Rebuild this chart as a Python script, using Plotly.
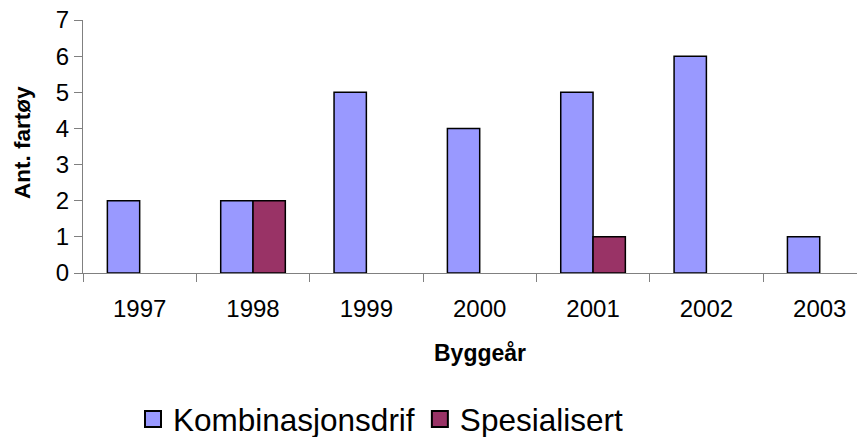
import plotly.graph_objects as go

years = ["1997", "1998", "1999", "2000", "2001", "2002", "2003"]
kombinasjon = [2, 2, 5, 4, 5, 6, 1]
spesialisert = [None, 2, None, None, 1, None, None]
series_names = ["Kombinasjonsdrif", "Spesialisert"]
series_colors = ["#9999FF", "#993366"]
y_ticks = [0, 1, 2, 3, 4, 5, 6, 7]

FONT = "Liberation Sans, Arial, sans-serif"

fig = go.Figure()
for vals, name, col in zip([kombinasjon, spesialisert], series_names, series_colors):
    fig.add_trace(go.Bar(x=years, y=vals, name=name, showlegend=False,
                         marker=dict(color=col, line=dict(color="black", width=1.5))))
# legend entries (square swatches)
for name, col in zip(series_names, series_colors):
    fig.add_trace(go.Scatter(x=[None], y=[None], name=name, mode="markers",
                             marker=dict(symbol="square", size=16, color=col,
                                         line=dict(color="black", width=2))))

# the page body adds an 8px offset, so figure coords = window coords - 8
L, R, T, B = 75, 0, 12, 172
W, H = 865, 437
pw = W - L - R
ph = H - T - B

def py(y):  # figure pixel y -> paper
    return (H - B - y) / ph

def px(x):  # figure pixel x -> paper
    return (x - L) / pw

fig.update_layout(
    width=W, height=H,
    margin=dict(l=L, r=R, t=T, b=B, autoexpand=False),
    paper_bgcolor="white", plot_bgcolor="white",
    barmode="group", bargap=0.43, bargroupgap=0,
    font=dict(family=FONT, size=24, color="black"),
    showlegend=True,
    legend=dict(orientation="h", x=px(125), y=py(384),
                xanchor="left", yanchor="top",
                font=dict(size=31.5), itemwidth=30, traceorder="normal",
                bgcolor="rgba(0,0,0,0)"),
    xaxis=dict(type="category", range=[-0.5, 6.47], showline=True, linecolor="#808080",
               linewidth=1, ticks="outside", ticklen=8, tickcolor="#808080",
               tickson="boundaries", showgrid=False, zeroline=False,
               automargin=False, ticklabelstandoff=14, ticklabeloverflow="allow",
               tickfont=dict(size=24)),
    yaxis=dict(range=[0, 7], tickvals=y_ticks, showline=True, linecolor="#808080",
               linewidth=1, ticks="outside", ticklen=8, tickcolor="#808080",
               showgrid=False, zeroline=False, automargin=False,
               ticklabeloverflow="allow", tickfont=dict(size=24)),
    annotations=[
        dict(text="<b>Byggeår</b>", x=3, xref="x", y=py(345), yref="paper",
             xanchor="center", yanchor="middle",
             showarrow=False, font=dict(size=23)),
        dict(text="<b>Ant. fartøy</b>", x=px(14), xref="paper",
             y=py(135), yref="paper", xanchor="center", yanchor="middle",
             showarrow=False, textangle=-90, font=dict(size=22.5)),
    ],
)

fig.write_html("out.html")
